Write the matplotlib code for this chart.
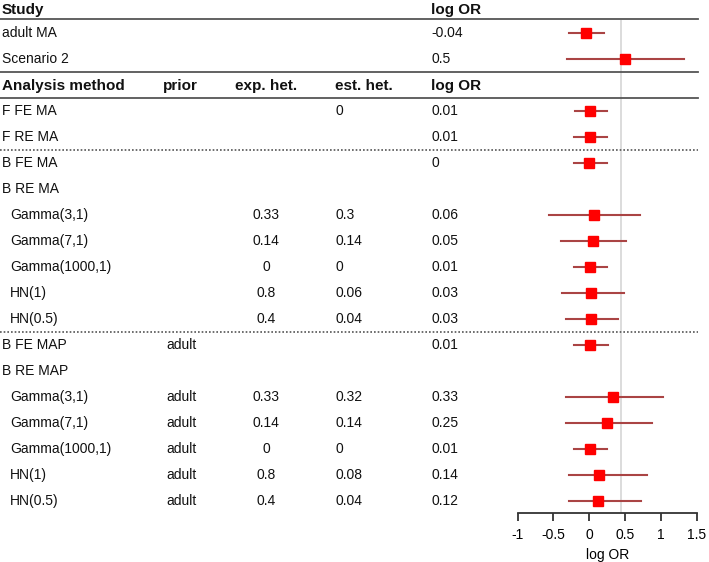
import matplotlib
matplotlib.use("Agg")
import matplotlib.pyplot as plt
import matplotlib.transforms as mtransforms

plt.rcParams['font.family'] = ['Liberation Sans', 'DejaVu Sans']

# top block: studies
study_labels = ["adult MA", "Scenario 2"]
study_est = [-0.04, 0.5]
study_lo = [-0.29, -0.31]
study_hi = [0.21, 1.32]

# bottom block: analysis methods
method_labels = ["F FE MA", "F RE MA", "B FE MA", "B RE MA",
                 "Gamma(3,1)", "Gamma(7,1)", "Gamma(1000,1)", "HN(1)", "HN(0.5)",
                 "B FE MAP", "B RE MAP",
                 "Gamma(3,1)", "Gamma(7,1)", "Gamma(1000,1)", "HN(1)", "HN(0.5)"]
method_indent = [False, False, False, False,
                 True, True, True, True, True,
                 False, False,
                 True, True, True, True, True]
method_prior = ["", "", "", "", "", "", "", "", "",
                "adult", "", "adult", "adult", "adult", "adult", "adult"]
method_exp_het = ["", "", "", "", "0.33", "0.14", "0", "0.8", "0.4",
                  "", "", "0.33", "0.14", "0", "0.8", "0.4"]
method_est_het = ["0", "", "", "", "0.3", "0.14", "0", "0.06", "0.04",
                  "", "", "0.32", "0.14", "0", "0.08", "0.04"]
method_est = [0.01, 0.01, 0, None, 0.06, 0.05, 0.01, 0.03, 0.03,
              0.01, None, 0.33, 0.25, 0.01, 0.14, 0.12]
method_lo = [-0.20, -0.21, -0.22, None, -0.56, -0.40, -0.21, -0.38, -0.32,
             -0.21, None, -0.33, -0.33, -0.21, -0.28, -0.28]
method_hi = [0.25, 0.25, 0.24, None, 0.71, 0.51, 0.25, 0.49, 0.40,
             0.26, None, 1.03, 0.87, 0.25, 0.81, 0.72]

ref_line = 0.44
xticks = [-1, -0.5, 0, 0.5, 1, 1.5]
xtick_labels = ["-1", "-0.5", "0", "0.5", "1", "1.5"]

W, H = 709, 562
fig = plt.figure(figsize=(W / 100, H / 100), dpi=100)
ax = fig.add_axes([0, 49 / H, 1, 1 - 49 / H])

row_h = 26.0
y_top = -0.27
y_bot = y_top + (H - 49) / row_h
ax.set_ylim(y_bot, y_top)
px0 = 589.3
ppu = 71.72
ax.set_xlim(-px0 / ppu, (W - px0) / ppu)

def px(x):
    return x / W

tr = mtransforms.blended_transform_factory(ax.transAxes, ax.transData)
txt_kw = dict(transform=tr, va='center', fontsize=10, color='#111111')
hdr_kw = dict(transform=tr, va='center', fontsize=11, fontweight='bold', color='#111111')

col_label = px(2)
col_indent = px(10)
col_prior = px(163)
col_exp = px(266)
col_est = px(335)
col_lor = px(431)

line_end = 698 / W
line_col = '#555555'
ci_col = '#aa4444'
sq_col = '#ff0000'

def fmt(v):
    return "" if v is None else ("%g" % v)

# headers
ax.text(col_label, 0.12, "Study", **hdr_kw)
ax.text(col_lor, 0.12, "log OR", **hdr_kw)
ax.axhline(0.47, xmin=0, xmax=line_end, color=line_col, lw=1.3)

# study rows
for i, lab in enumerate(study_labels):
    y = 1 + i
    ax.text(col_label, y, lab, **txt_kw)
    ax.text(col_lor, y, fmt(study_est[i]), **txt_kw)
    ax.plot([study_lo[i], study_hi[i]], [y, y], color=ci_col, lw=1.5, zorder=3)
    ax.plot(study_est[i], y, 's', color=sq_col, ms=7, zorder=4)

ax.axhline(2.5, xmin=0, xmax=line_end, color=line_col, lw=1.3)
ax.text(col_label, 3.04, "Analysis method", **hdr_kw)
ax.text(col_prior, 3.04, "prior", **hdr_kw)
ax.text(col_exp, 3.04, "exp. het.", ha='center', **hdr_kw)
ax.text(col_est, 3.04, "est. het.", **hdr_kw)
ax.text(col_lor, 3.04, "log OR", **hdr_kw)
ax.axhline(3.5, xmin=0, xmax=line_end, color=line_col, lw=1.3)

for i, lab in enumerate(method_labels):
    y = 4 + i
    ax.text(col_indent if method_indent[i] else col_label, y, lab, **txt_kw)
    ax.text(col_prior + px(3), y, method_prior[i], **txt_kw)
    ax.text(col_exp, y, method_exp_het[i], ha='center', **txt_kw)
    ax.text(col_est, y, method_est_het[i], **txt_kw)
    ax.text(col_lor, y, fmt(method_est[i]), **txt_kw)
    if method_est[i] is not None:
        ax.plot([method_lo[i], method_hi[i]], [y, y], color=ci_col, lw=1.5, zorder=3)
        ax.plot(method_est[i], y, 's', color=sq_col, ms=7, zorder=4)

for y in [5.5, 12.5]:
    ax.axhline(y, xmin=0, xmax=line_end, color=line_col, lw=1.2,
               linestyle=(0, (1, 1.2)))

ax.vlines(ref_line, 0.5, y_bot, color='#d9d9d9', lw=1.3, zorder=1)

for s in ['top', 'left', 'right']:
    ax.spines[s].set_visible(False)
ax.spines['bottom'].set_bounds(xticks[0], xticks[-1])
ax.spines['bottom'].set_color('#333333')
ax.spines['bottom'].set_linewidth(1.3)
ax.set_yticks([])
ax.set_xticks(xticks)
ax.set_xticklabels(xtick_labels, fontsize=10)
ax.tick_params(axis='x', length=6, width=1.3, color='#333333', pad=5)
ax.set_xlabel("log OR", fontsize=10, labelpad=4)
ax.xaxis.label.set_x((px0 + 0.25 * ppu) / W)
ax.patch.set_visible(False)

fig.savefig("out.png", dpi=100)
